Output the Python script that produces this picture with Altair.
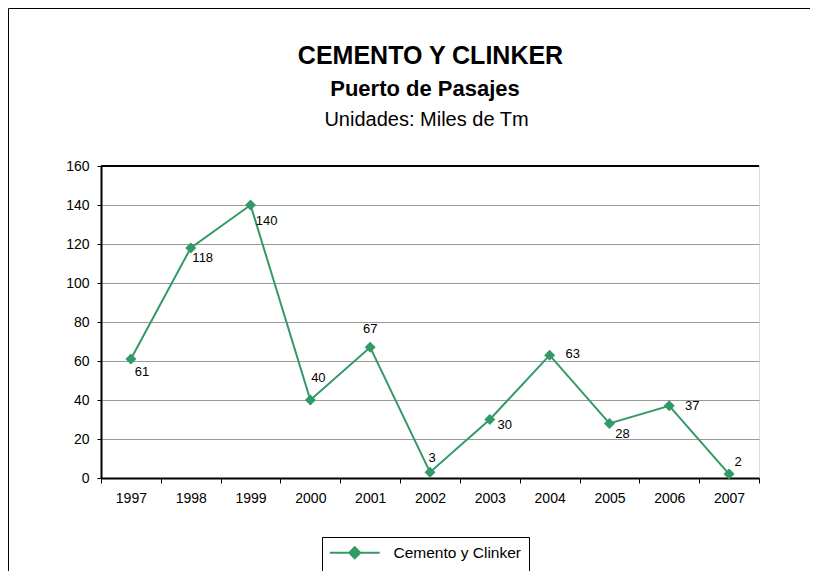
import altair as alt
import pandas as pd

# ---- data ----
years = ["1997", "1998", "1999", "2000", "2001", "2002", "2003", "2004", "2005", "2006", "2007"]
values = [61, 118, 140, 40, 67, 3, 30, 63, 28, 37, 2]
series_name = "Cemento y Clinker"
title_main = "CEMENTO Y CLINKER"
title_sub1 = "Puerto de Pasajes"
title_sub2 = "Unidades: Miles de Tm"
y_ticks = [0, 20, 40, 60, 80, 100, 120, 140, 160]

df = pd.DataFrame({"year": years, "value": values, "series": [series_name] * len(years)})

# ---- style ----
GREEN = "#339966"
FONT = "Liberation Sans"
W, H = 658, 312
PAD = {"left": 93, "top": 158, "right": 51, "bottom": 93}

# label offsets (dx, dy) per year, style only
LABEL_OFFSETS = {
    "1997": (11, 13), "1998": (12, 10), "1999": (16, 16), "2000": (8, -22),
    "2001": (0, -18), "2002": (2, -14), "2003": (15, 5), "2004": (23, -1),
    "2005": (13, 11), "2006": (23, 0), "2007": (9, -12),
}

x = alt.X(
    "year:N", sort=years,
    scale=alt.Scale(type="band", paddingInner=0, paddingOuter=0),
    bandPosition=0.5,
    axis=alt.Axis(title=None, labelAngle=0, tickBand="extent", grid=False,
                  labelFontSize=14, labelPadding=8, tickSize=5, tickColor="black",
                  tickWidth=1, domainColor="black", domainWidth=2,
                  labelColor="black", labelFont=FONT),
)
y = alt.Y(
    "value:Q",
    scale=alt.Scale(domain=[0, 160], nice=False, zero=True),
    axis=alt.Axis(title=None, values=y_ticks, grid=True, gridColor="#999999",
                  gridWidth=1, labelFontSize=14, labelPadding=8, tickSize=4,
                  tickColor="black", domainColor="black", domainWidth=2,
                  labelColor="black", labelFont=FONT),
)

base = alt.Chart(df)

line = base.mark_line(color=GREEN, strokeWidth=2).encode(x=x, y=y)

points = base.mark_point(shape="diamond", filled=True, size=121, opacity=1).encode(
    x=x, y=y,
    color=alt.Color(
        "series:N",
        scale=alt.Scale(range=[GREEN]),
        legend=alt.Legend(
            title=None, orient="none", legendX=221, legendY=371,
            symbolType="M-5,0H5M0,-1.1L1.1,0L0,1.1L-1.1,0Z",
            symbolSize=100, symbolStrokeWidth=2, symbolStrokeColor=GREEN,
            symbolFillColor=GREEN, symbolOpacity=1,
            strokeColor="black", padding=8, symbolOffset=17, labelOffset=31,
            labelFontSize=15.5, labelColor="black", labelFont=FONT,
        ),
    ),
)

labels = []
for yr, (dx, dy) in LABEL_OFFSETS.items():
    labels.append(
        base.transform_filter(alt.datum.year == yr)
        .mark_text(dx=dx, dy=dy, fontSize=13, font=FONT, color="black",
                   align="center", baseline="middle")
        .encode(x=x, y=y, text="value:Q")
    )

def title_text(txt, size, weight, xpos, ybase):
    return alt.Chart(pd.DataFrame({"t": [txt]})).mark_text(
        fontSize=size, fontWeight=weight, font=FONT, color="black",
        align="center", baseline="alphabetic",
    ).encode(text="t:N", x=alt.value(xpos), y=alt.value(ybase))

titles = [
    title_text(title_main, 25, "bold", 329.5, -102.5),
    title_text(title_sub1, 22, "bold", 324, -70.5),
    title_text(title_sub2, 20, "normal", 325.5, -40.5),
]

one = pd.DataFrame({"a": [0]})
frame_left = alt.Chart(one).mark_rule(color="black", strokeWidth=1).encode(
    x=alt.value(-92.5), y=alt.value(-157.5), y2=alt.value(H + 93))
frame_top = alt.Chart(one).mark_rule(color="black", strokeWidth=1).encode(
    x=alt.value(-92.5), x2=alt.value(W + 51), y=alt.value(-157.5))

top_border = alt.Chart(one).mark_rule(color="black", strokeWidth=2).encode(
    x=alt.value(0), x2=alt.value(W), y=alt.value(0))

chart = alt.layer(frame_left, frame_top, line, points, top_border, *labels, *titles).properties(
    width=W, height=H, autosize="none", padding=PAD,
).configure_view(stroke="black", strokeWidth=2).configure(background="white")

chart.save("out.html", embed_options={"renderer": "svg", "actions": False})
